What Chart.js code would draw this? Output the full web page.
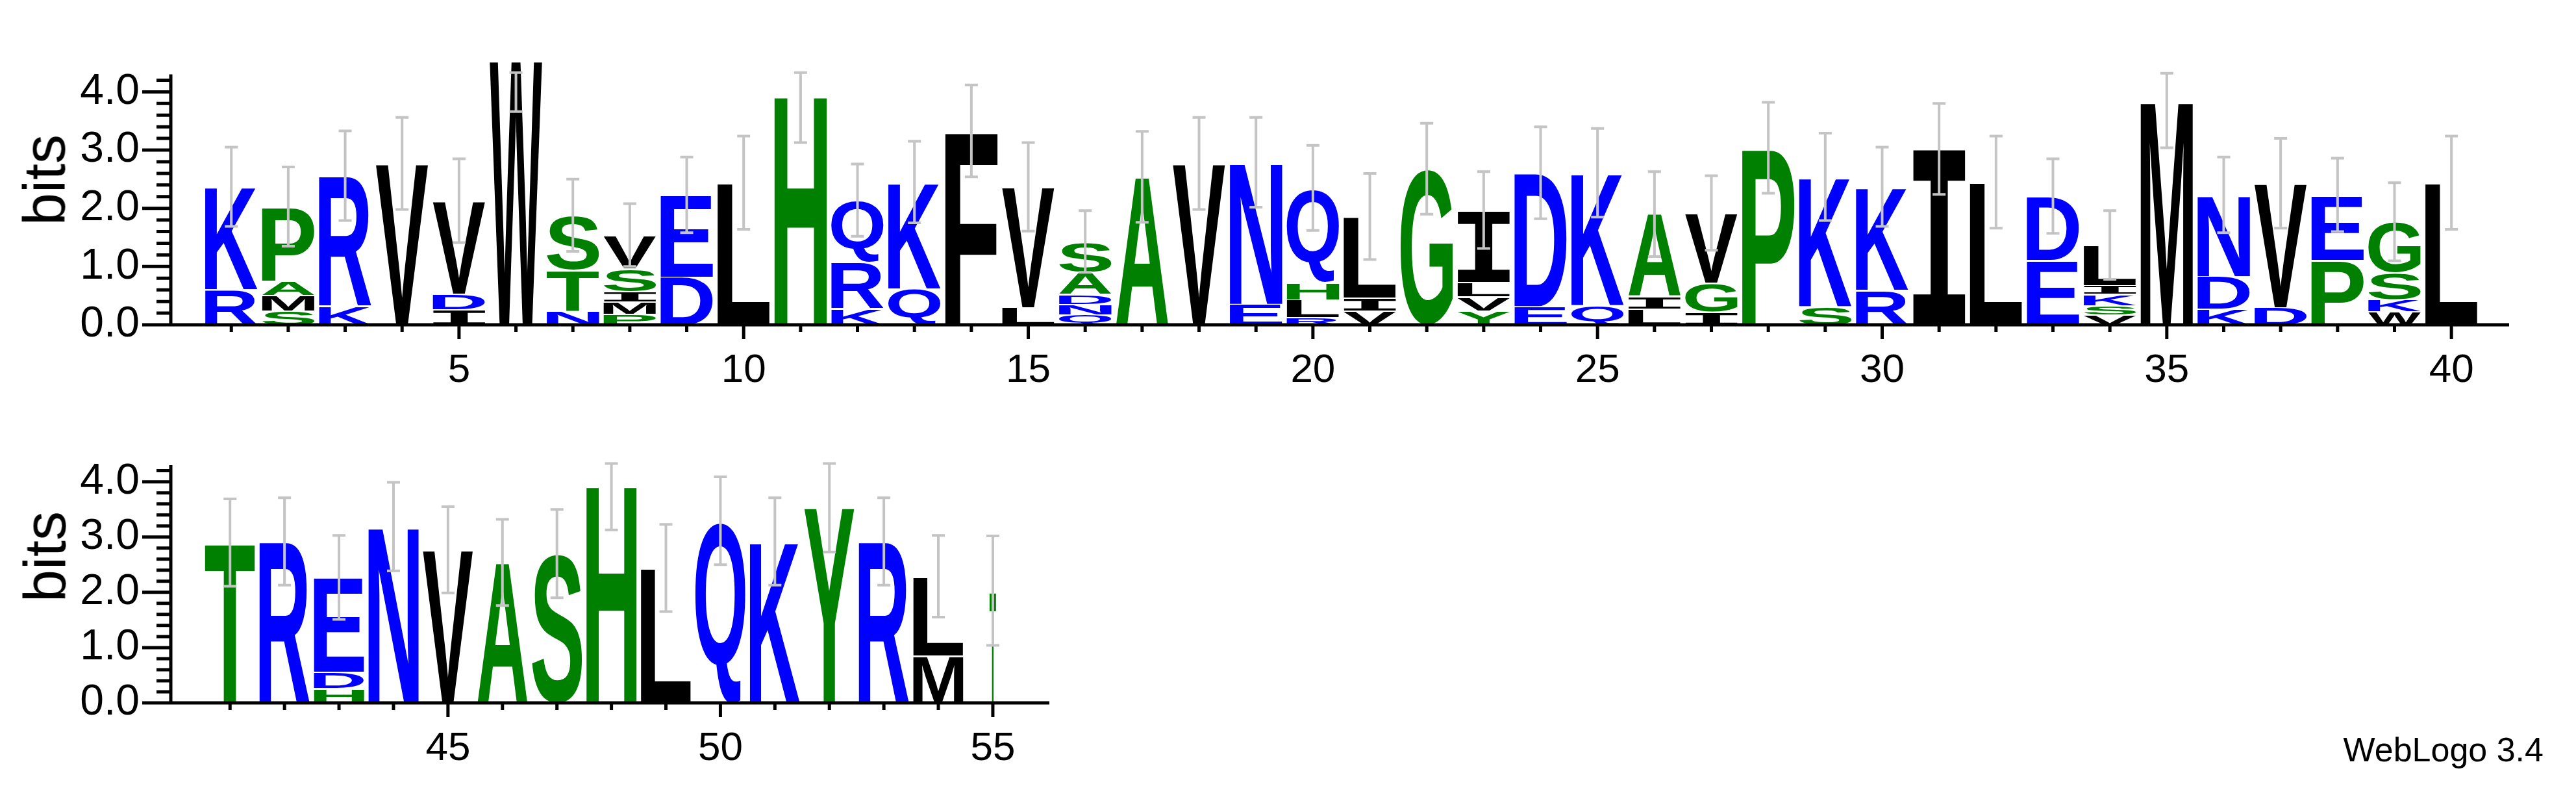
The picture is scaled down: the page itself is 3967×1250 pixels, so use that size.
<!DOCTYPE html>
<html><head><meta charset="utf-8">
<script src="https://cdn.jsdelivr.net/npm/chart.js@4"></script>
<style>
html,body{margin:0;padding:0;background:#fff;width:3967px;height:1250px;overflow:hidden;font-family:"Liberation Sans",Arial,sans-serif}
canvas{position:absolute;left:0}
.bits{position:absolute;font-size:90px;transform:translate(-50%,-50%) rotate(-90deg);white-space:nowrap}
#wl{position:absolute;right:50px;top:1124px;font-size:52px}
</style></head><body>
<canvas id="c1" width="3967" height="620" style="top:0;width:3967px;height:620px"></canvas>
<canvas id="c2" width="3967" height="630" style="top:620px;width:3967px;height:630px"></canvas>
<div class="bits" style="left:69px;top:277px">bits</div>
<div class="bits" style="left:70px;top:857px">bits</div>
<div id="wl">WebLogo 3.4</div>
<script>
// letters per position, bottom to top
const letters1 = ["RK","SMAP","KR","V","IDV","W","NTS","PMISV","DE","L","H","KRQ","QK","F","LV","QNDAS","A","V","EN","RLHQ","VIL","G","YVLI","ED","QK","LIA","IGV","P","SK","RK","I","L","ED","VSKIL","M","KDN","DV","PE","WKSG","L"];
const heights1 = [[0.61,1.76],[0.25,0.26,0.25,1.27],[0.32,2.24],[2.77],[0.27,0.26,1.6],[4.54],[0.25,0.7,0.93],[0.19,0.21,0.18,0.39,0.57],[0.83,1.4],[2.44],[3.95],[0.28,0.8,1.06],[0.63,1.82],[3.33],[0.3,2.07],[0.18,0.18,0.17,0.38,0.52],[2.54],[2.77],[0.36,2.43],[0.13,0.31,0.3,1.61],[0.25,0.22,1.39],[2.68],[0.25,0.24,0.25,1.23],[0.32,2.29],[0.34,2.27],[0.28,0.21,1.41],[0.23,0.49,1.2],[3.04],[0.32,2.22],[0.6,1.77],[3.02],[2.45],[1.11,1.1],[0.18,0.16,0.19,0.15,0.69],[3.85],[0.28,0.56,1.39],[0.3,2.13],[1.12,1.11],[0.23,0.21,0.46,0.87],[2.44]];
const errHigh1 = [3.05,2.71,3.33,3.56,2.85,4.33,2.5,2.08,2.88,3.24,4.33,2.76,3.15,4.12,3.13,1.96,3.32,3.56,3.56,3.08,2.6,3.46,2.63,3.4,3.37,2.63,2.56,3.82,3.29,3.05,3.8,3.24,2.85,1.96,4.32,2.88,3.2,2.86,2.44,3.24];
const errLow1 = [1.69,1.35,1.79,1.98,1.41,3.66,1.26,1.0,1.58,1.64,3.13,1.52,1.75,2.54,1.61,0.9,1.76,1.98,2.02,1.62,1.12,1.9,1.31,1.82,1.85,1.17,1.28,2.26,1.79,1.69,2.24,1.66,1.57,0.78,3.04,1.58,1.66,1.6,1.1,1.64];
const letters2 = ["T","R","HDE","N","V","A","S","H","L","Q","K","Y","R","ML","T"];
const heights2 = [[2.9],[2.92],[0.27,0.29,1.71],[3.19],[2.77],[2.54],[2.7],[3.95],[2.44],[3.29],[2.92],[3.54],[2.92],[0.86,1.43],[2.03]];
const errHigh2 = [3.69,3.71,3.03,3.99,3.55,3.32,3.5,4.33,3.23,4.09,3.71,4.33,3.71,3.03,3.02];
const errLow2 = [2.11,2.13,1.51,2.39,1.99,1.76,1.9,3.13,1.65,2.5,2.13,2.73,2.13,1.55,1.04];
const yTickLabels = ["0.0","1.0","2.0","3.0","4.0"];

function col(ch){
  if ("KRDENQ".includes(ch)) return "#0000ff";
  if ("GSTYCHPA".includes(ch)) return "#008000";
  return "#000000";
}

function logoPlugin(letters, heights, eh, el, x0, narrow){
  return {
    id:'logo',
    afterDatasetsDraw(chart){
      const ctx = chart.ctx, xs = chart.scales.x, ys = chart.scales.y;
      const unit = xs.getPixelForValue(1) - xs.getPixelForValue(0);
      ctx.save();
      letters.forEach((str, i) => {
        const pos = x0 + i;
        const cx = xs.getPixelForValue(pos);
        const w = unit * 0.92 * (narrow[pos] || 1);
        let base = 0;
        [...str].forEach((ch, j) => {
          const h = heights[i][j];
          const yb = ys.getPixelForValue(base), yt = ys.getPixelForValue(base + h);
          base += h;
          const bh = (yb - yt) - 2;
          if (bh <= 0) return;
          ctx.font = ch === 'I' ? 'bold 200px "DejaVu Sans Mono", monospace'
                                : 'bold 200px "Liberation Sans", Arial, sans-serif';
          const m = ctx.measureText(ch);
          const gw = m.actualBoundingBoxLeft + m.actualBoundingBoxRight;
          const gh = m.actualBoundingBoxAscent + m.actualBoundingBoxDescent;
          ctx.save();
          ctx.translate(cx - w/2, yb);
          ctx.scale(w/gw, bh/gh);
          ctx.fillStyle = col(ch);
          ctx.textBaseline = 'alphabetic';
          ctx.fillText(ch, m.actualBoundingBoxLeft, -m.actualBoundingBoxDescent);
          ctx.restore();
        });
      });
      ctx.strokeStyle = '#c4c4c4'; ctx.lineWidth = 4;
      letters.forEach((str, i) => {
        const cx = xs.getPixelForValue(x0 + i);
        const y1 = ys.getPixelForValue(eh[i]), y2 = ys.getPixelForValue(el[i]);
        ctx.beginPath();
        ctx.moveTo(cx, y1); ctx.lineTo(cx, y2);
        ctx.moveTo(cx-10, y1); ctx.lineTo(cx+10, y1);
        ctx.moveTo(cx-10, y2); ctx.lineTo(cx+10, y2);
        ctx.stroke();
      });
      ctx.strokeStyle = '#000'; ctx.lineWidth = 5;
      const zx = xs.left, zy = ys.getPixelForValue(0);
      ctx.beginPath();
      ctx.moveTo(xs.left, zy); ctx.lineTo(xs.right, zy);
      ctx.moveTo(zx, zy+2); ctx.lineTo(zx, ys.getPixelForValue(4.3));
      ctx.stroke();
      ctx.beginPath();
      for (let v = 0; v <= 4.31; v += 0.2) {
        const y = ys.getPixelForValue(v);
        const major = Math.abs(v - Math.round(v)) < 1e-6;
        ctx.moveTo(zx - (major ? 44 : 22), y); ctx.lineTo(zx, y);
      }
      for (let p = Math.ceil(xs.min); p <= xs.max; p++) {
        const x = xs.getPixelForValue(p);
        ctx.moveTo(x, zy); ctx.lineTo(x, zy + (p % 5 === 0 ? 22 : 11));
      }
      ctx.stroke();
      ctx.restore();
    }
  };
}

function makeChart(id, letters, heights, eh, el, x0, xmin, xmax, ymax, padTop, padRight, padBottom, narrow){
  const data = letters.map((s,i)=>({x:x0+i, y:heights[i].reduce((a,b)=>a+b,0)}));
  return new Chart(document.getElementById(id), {
    type:'bar',
    data:{datasets:[{data, backgroundColor:'rgba(0,0,0,0)', borderWidth:0, barThickness:80}]},
    options:{
      responsive:false, animation:false, devicePixelRatio:1,
      layout:{padding:{left:0, right:padRight, top:padTop, bottom:padBottom}},
      plugins:{legend:{display:false}, tooltip:{enabled:false}},
      scales:{
        x:{type:'linear', min:xmin, max:xmax, grid:{display:false, drawTicks:false}, border:{display:false},
           afterBuildTicks(s){ const t=[]; for(let p=Math.ceil(s.min);p<=s.max;p++) t.push({value:p}); s.ticks=t; },
           afterFit(s){ s.height = 120; },
           ticks:{autoSkip:false, maxRotation:0, padding:34, color:'#000',
             font:{size:62, family:'"Liberation Sans", Arial, sans-serif'},
             callback:v => (v % 5 === 0 ? String(v) : '')}},
        y:{min:0, max:ymax, grid:{display:false, drawTicks:false}, border:{display:false},
           afterBuildTicks(s){ s.ticks = yTickLabels.map((l,k)=>({value:k})); },
           afterFit(s){ s.width = 263; },
           ticks:{padding:48, color:'#000', font:{size:66, family:'"Liberation Sans", Arial, sans-serif'},
             callback:(v,k) => yTickLabels[k]}}
      }
    },
    plugins:[logoPlugin(letters, heights, eh, el, x0, narrow)]
  });
}
makeChart('c1', letters1, heights1, errHigh1, errLow1, 1, 0.45, 40.5, 4.6, 20.7, 103, 0, {});
makeChart('c2', letters2, heights2, errHigh2, errLow2, 41, 40.45, 55.5, 4.4, 3.5, 2351, 48, {55:0.13});
</script></body></html>
